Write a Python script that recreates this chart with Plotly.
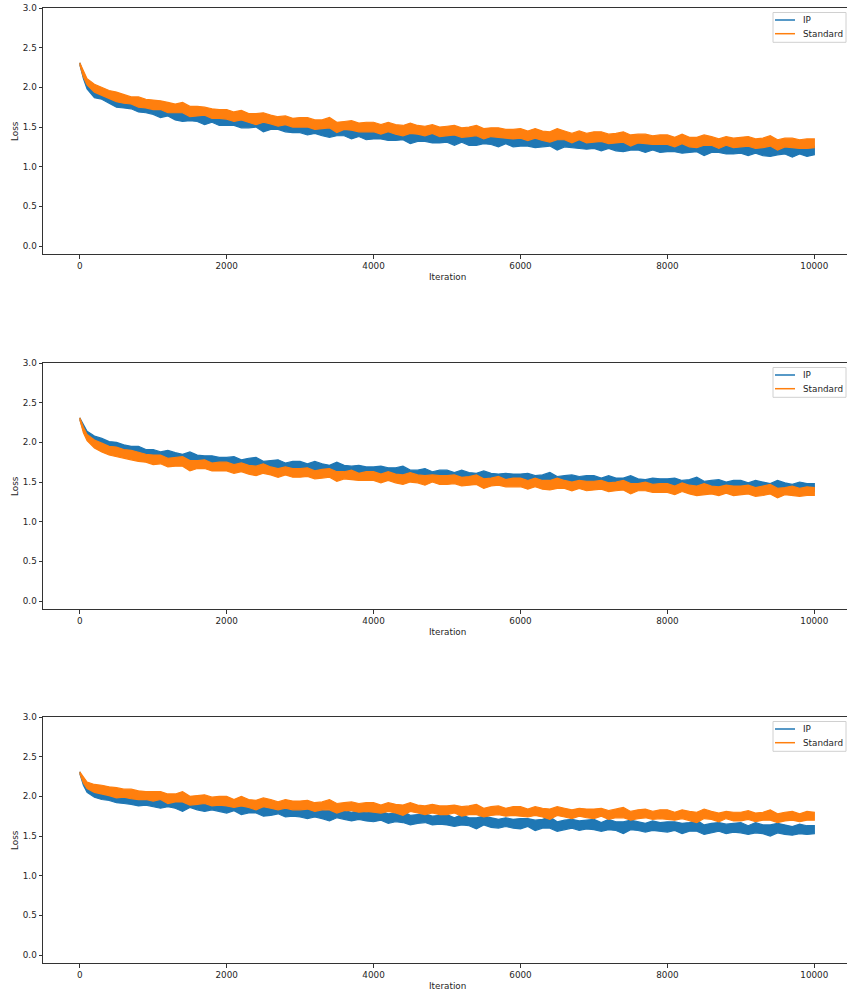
import plotly.graph_objects as go

# Training iterations at which the loss band is recorded
ITERATIONS = [0, 50] + list(range(100, 10001, 100))

IP_COLOR = "#1f77b4"
STD_COLOR = "#ff7f0e"
SERIES_NAMES = ["IP", "Standard"]

# ---- Panel 1: lower / upper envelope of the noisy loss curves ----
p1_ip_lo = [2.29, 2.11, 1.98, 1.87, 1.85, 1.80, 1.75, 1.74, 1.73, 1.69, 1.68,
            1.66, 1.62, 1.64, 1.59, 1.57, 1.58, 1.57, 1.53, 1.56, 1.52,
            1.52, 1.52, 1.49, 1.49, 1.50, 1.44, 1.47, 1.47, 1.44, 1.43,
            1.43, 1.40, 1.42, 1.39, 1.37, 1.39, 1.39, 1.35, 1.38, 1.34,
            1.35, 1.35, 1.33, 1.33, 1.34, 1.29, 1.32, 1.32, 1.30, 1.30,
            1.31, 1.27, 1.31, 1.27, 1.27, 1.29, 1.28, 1.25, 1.29, 1.25,
            1.26, 1.26, 1.24, 1.25, 1.26, 1.21, 1.25, 1.24, 1.23, 1.22,
            1.23, 1.20, 1.23, 1.20, 1.19, 1.21, 1.21, 1.18, 1.21, 1.18,
            1.19, 1.19, 1.17, 1.18, 1.19, 1.14, 1.18, 1.18, 1.16, 1.16,
            1.17, 1.14, 1.17, 1.14, 1.13, 1.15, 1.16, 1.12, 1.16, 1.13,
            1.15]
p1_ip_hi = [2.31, 2.18, 2.06, 1.98, 1.95, 1.90, 1.88, 1.85, 1.82, 1.82, 1.78,
            1.78, 1.73, 1.76, 1.71, 1.69, 1.71, 1.68, 1.65, 1.66, 1.64,
            1.64, 1.64, 1.61, 1.61, 1.63, 1.57, 1.58, 1.58, 1.55, 1.55,
            1.55, 1.51, 1.55, 1.51, 1.50, 1.53, 1.50, 1.47, 1.50, 1.47,
            1.47, 1.48, 1.45, 1.45, 1.48, 1.42, 1.44, 1.44, 1.42, 1.42,
            1.43, 1.39, 1.43, 1.40, 1.39, 1.42, 1.39, 1.37, 1.40, 1.37,
            1.38, 1.38, 1.36, 1.37, 1.39, 1.34, 1.36, 1.36, 1.34, 1.34,
            1.35, 1.32, 1.35, 1.32, 1.32, 1.34, 1.32, 1.30, 1.32, 1.30,
            1.31, 1.31, 1.29, 1.30, 1.32, 1.27, 1.29, 1.30, 1.27, 1.28,
            1.29, 1.26, 1.29, 1.26, 1.26, 1.28, 1.27, 1.24, 1.27, 1.25,
            1.26]
p1_std_lo = [2.29, 2.13, 2.03, 1.94, 1.89, 1.86, 1.82, 1.80, 1.79, 1.75, 1.74,
             1.72, 1.72, 1.68, 1.68, 1.68, 1.63, 1.64, 1.65, 1.61, 1.61,
             1.60, 1.57, 1.59, 1.56, 1.53, 1.56, 1.54, 1.51, 1.53, 1.50,
             1.50, 1.50, 1.47, 1.48, 1.49, 1.43, 1.47, 1.46, 1.44, 1.44,
             1.44, 1.41, 1.44, 1.41, 1.39, 1.42, 1.41, 1.39, 1.42, 1.38,
             1.39, 1.40, 1.37, 1.38, 1.39, 1.35, 1.38, 1.37, 1.36, 1.35,
             1.36, 1.33, 1.36, 1.33, 1.31, 1.34, 1.34, 1.30, 1.34, 1.30,
             1.31, 1.32, 1.29, 1.30, 1.31, 1.26, 1.30, 1.29, 1.28, 1.28,
             1.28, 1.25, 1.29, 1.25, 1.24, 1.27, 1.27, 1.23, 1.27, 1.24,
             1.25, 1.26, 1.23, 1.24, 1.26, 1.21, 1.25, 1.24, 1.23, 1.23,
             1.24]
p1_std_hi = [2.31, 2.20, 2.11, 2.04, 2.00, 1.96, 1.94, 1.91, 1.88, 1.88, 1.85,
             1.84, 1.83, 1.81, 1.79, 1.81, 1.76, 1.76, 1.75, 1.73, 1.72,
             1.72, 1.69, 1.71, 1.67, 1.67, 1.68, 1.65, 1.63, 1.64, 1.61,
             1.62, 1.62, 1.59, 1.59, 1.62, 1.56, 1.57, 1.58, 1.55, 1.56,
             1.56, 1.53, 1.56, 1.53, 1.52, 1.55, 1.52, 1.51, 1.53, 1.50,
             1.51, 1.52, 1.49, 1.50, 1.52, 1.48, 1.49, 1.49, 1.47, 1.47,
             1.48, 1.45, 1.48, 1.45, 1.44, 1.48, 1.45, 1.42, 1.45, 1.42,
             1.44, 1.44, 1.41, 1.42, 1.44, 1.40, 1.41, 1.41, 1.39, 1.40,
             1.40, 1.37, 1.41, 1.37, 1.37, 1.40, 1.38, 1.35, 1.38, 1.36,
             1.37, 1.38, 1.35, 1.36, 1.39, 1.34, 1.36, 1.36, 1.34, 1.35,
             1.35]

# ---- Panel 2 ----
p2_ip_lo = [2.29, 2.15, 2.06, 1.98, 1.94, 1.91, 1.89, 1.87, 1.86, 1.83, 1.82,
            1.81, 1.77, 1.80, 1.76, 1.74, 1.76, 1.75, 1.71, 1.74, 1.70,
            1.71, 1.71, 1.68, 1.69, 1.70, 1.64, 1.68, 1.67, 1.65, 1.65,
            1.65, 1.62, 1.65, 1.62, 1.60, 1.63, 1.62, 1.59, 1.62, 1.58,
            1.59, 1.59, 1.56, 1.57, 1.58, 1.53, 1.56, 1.56, 1.54, 1.54,
            1.55, 1.51, 1.55, 1.51, 1.50, 1.52, 1.52, 1.49, 1.52, 1.49,
            1.49, 1.50, 1.48, 1.48, 1.50, 1.45, 1.48, 1.48, 1.47, 1.46,
            1.47, 1.44, 1.47, 1.44, 1.43, 1.45, 1.45, 1.42, 1.45, 1.42,
            1.43, 1.44, 1.41, 1.42, 1.44, 1.38, 1.42, 1.42, 1.40, 1.40,
            1.41, 1.38, 1.41, 1.38, 1.37, 1.40, 1.39, 1.36, 1.40, 1.37,
            1.38]
p2_ip_hi = [2.31, 2.22, 2.14, 2.08, 2.05, 2.01, 2.00, 1.97, 1.95, 1.95, 1.91,
            1.91, 1.88, 1.90, 1.87, 1.85, 1.88, 1.84, 1.83, 1.83, 1.81,
            1.81, 1.82, 1.78, 1.80, 1.81, 1.76, 1.77, 1.78, 1.74, 1.76,
            1.76, 1.73, 1.76, 1.73, 1.71, 1.75, 1.71, 1.70, 1.71, 1.69,
            1.69, 1.70, 1.68, 1.68, 1.70, 1.65, 1.65, 1.67, 1.63, 1.65,
            1.65, 1.62, 1.65, 1.62, 1.61, 1.64, 1.61, 1.60, 1.61, 1.60,
            1.60, 1.61, 1.58, 1.59, 1.62, 1.57, 1.58, 1.59, 1.57, 1.58,
            1.58, 1.55, 1.58, 1.55, 1.55, 1.58, 1.54, 1.53, 1.55, 1.54,
            1.54, 1.55, 1.52, 1.53, 1.56, 1.51, 1.52, 1.53, 1.50, 1.52,
            1.52, 1.49, 1.52, 1.50, 1.48, 1.52, 1.49, 1.47, 1.50, 1.48,
            1.48]
p2_std_lo = [2.29, 2.12, 2.02, 1.93, 1.88, 1.84, 1.82, 1.80, 1.78, 1.76, 1.75,
             1.72, 1.73, 1.69, 1.70, 1.70, 1.64, 1.67, 1.67, 1.64, 1.64,
             1.64, 1.61, 1.63, 1.60, 1.58, 1.61, 1.59, 1.56, 1.59, 1.56,
             1.56, 1.57, 1.54, 1.55, 1.56, 1.51, 1.54, 1.53, 1.52, 1.52,
             1.52, 1.49, 1.52, 1.49, 1.47, 1.50, 1.49, 1.46, 1.50, 1.47,
             1.47, 1.48, 1.45, 1.46, 1.47, 1.42, 1.45, 1.46, 1.44, 1.44,
             1.44, 1.41, 1.44, 1.41, 1.40, 1.42, 1.42, 1.39, 1.42, 1.39,
             1.40, 1.41, 1.38, 1.39, 1.40, 1.35, 1.39, 1.39, 1.37, 1.37,
             1.37, 1.34, 1.38, 1.35, 1.33, 1.34, 1.35, 1.33, 1.36, 1.33,
             1.34, 1.35, 1.32, 1.33, 1.35, 1.30, 1.34, 1.33, 1.32, 1.33,
             1.33]
p2_std_hi = [2.31, 2.19, 2.10, 2.03, 1.99, 1.95, 1.94, 1.91, 1.90, 1.87, 1.85,
             1.84, 1.84, 1.80, 1.81, 1.82, 1.77, 1.77, 1.78, 1.74, 1.75,
             1.75, 1.72, 1.74, 1.71, 1.70, 1.73, 1.69, 1.67, 1.69, 1.67,
             1.67, 1.68, 1.64, 1.66, 1.67, 1.63, 1.63, 1.65, 1.61, 1.63,
             1.63, 1.60, 1.63, 1.60, 1.59, 1.62, 1.59, 1.58, 1.59, 1.58,
             1.58, 1.59, 1.56, 1.57, 1.59, 1.54, 1.55, 1.57, 1.53, 1.55,
             1.55, 1.52, 1.55, 1.52, 1.52, 1.55, 1.52, 1.50, 1.52, 1.51,
             1.51, 1.52, 1.49, 1.50, 1.52, 1.48, 1.48, 1.50, 1.47, 1.48,
             1.48, 1.45, 1.49, 1.46, 1.45, 1.48, 1.45, 1.44, 1.46, 1.45,
             1.45, 1.46, 1.43, 1.45, 1.47, 1.42, 1.43, 1.45, 1.42, 1.44,
             1.43]

# ---- Panel 3 ----
p3_ip_lo = [2.29, 2.14, 2.05, 1.99, 1.96, 1.95, 1.92, 1.91, 1.90, 1.88, 1.89,
            1.87, 1.85, 1.87, 1.85, 1.81, 1.86, 1.83, 1.81, 1.83, 1.81,
            1.79, 1.82, 1.77, 1.79, 1.79, 1.75, 1.76, 1.78, 1.74, 1.75,
            1.74, 1.72, 1.74, 1.72, 1.69, 1.73, 1.71, 1.69, 1.71, 1.69,
            1.68, 1.70, 1.66, 1.68, 1.67, 1.64, 1.66, 1.67, 1.64, 1.65,
            1.64, 1.62, 1.64, 1.63, 1.59, 1.64, 1.61, 1.60, 1.62, 1.60,
            1.59, 1.62, 1.57, 1.60, 1.60, 1.56, 1.58, 1.60, 1.57, 1.59,
            1.58, 1.56, 1.58, 1.57, 1.53, 1.58, 1.57, 1.55, 1.57, 1.56,
            1.55, 1.57, 1.53, 1.56, 1.56, 1.52, 1.54, 1.56, 1.53, 1.55,
            1.54, 1.52, 1.54, 1.53, 1.50, 1.54, 1.52, 1.51, 1.53, 1.52,
            1.53]
p3_ip_hi = [2.31, 2.20, 2.13, 2.10, 2.07, 2.06, 2.04, 2.03, 2.01, 2.02, 1.99,
            2.00, 1.96, 1.99, 1.96, 1.95, 1.97, 1.94, 1.92, 1.94, 1.91,
            1.92, 1.92, 1.89, 1.90, 1.92, 1.87, 1.88, 1.89, 1.86, 1.86,
            1.87, 1.83, 1.87, 1.83, 1.82, 1.85, 1.82, 1.80, 1.82, 1.80,
            1.81, 1.81, 1.78, 1.79, 1.81, 1.76, 1.77, 1.78, 1.75, 1.76,
            1.77, 1.73, 1.77, 1.73, 1.73, 1.75, 1.73, 1.71, 1.73, 1.71,
            1.72, 1.72, 1.70, 1.71, 1.74, 1.68, 1.70, 1.71, 1.69, 1.70,
            1.71, 1.67, 1.71, 1.68, 1.68, 1.70, 1.68, 1.66, 1.69, 1.67,
            1.68, 1.68, 1.66, 1.67, 1.70, 1.64, 1.66, 1.67, 1.65, 1.66,
            1.67, 1.63, 1.67, 1.64, 1.64, 1.66, 1.64, 1.62, 1.65, 1.63,
            1.63]
p3_std_lo = [2.29, 2.17, 2.10, 2.05, 2.03, 2.01, 1.98, 1.99, 1.97, 1.96, 1.96,
             1.94, 1.96, 1.91, 1.93, 1.93, 1.89, 1.90, 1.91, 1.88, 1.89,
             1.88, 1.86, 1.88, 1.86, 1.83, 1.87, 1.85, 1.83, 1.85, 1.83,
             1.83, 1.84, 1.81, 1.83, 1.83, 1.79, 1.82, 1.82, 1.80, 1.81,
             1.80, 1.79, 1.81, 1.79, 1.76, 1.81, 1.79, 1.77, 1.79, 1.77,
             1.77, 1.79, 1.75, 1.77, 1.77, 1.74, 1.76, 1.77, 1.75, 1.76,
             1.75, 1.74, 1.76, 1.74, 1.71, 1.76, 1.74, 1.72, 1.75, 1.73,
             1.72, 1.75, 1.71, 1.73, 1.73, 1.70, 1.72, 1.73, 1.71, 1.72,
             1.71, 1.70, 1.72, 1.70, 1.67, 1.72, 1.71, 1.68, 1.72, 1.69,
             1.69, 1.71, 1.68, 1.70, 1.70, 1.67, 1.69, 1.70, 1.68, 1.70,
             1.70]
p3_std_hi = [2.31, 2.24, 2.18, 2.15, 2.14, 2.12, 2.11, 2.09, 2.09, 2.07, 2.06,
             2.06, 2.06, 2.03, 2.03, 2.06, 2.00, 2.01, 2.02, 1.99, 2.00,
             2.00, 1.96, 2.00, 1.96, 1.95, 1.98, 1.96, 1.93, 1.96, 1.94,
             1.94, 1.95, 1.92, 1.93, 1.96, 1.91, 1.92, 1.93, 1.91, 1.92,
             1.92, 1.89, 1.92, 1.90, 1.89, 1.92, 1.89, 1.88, 1.90, 1.88,
             1.88, 1.89, 1.87, 1.88, 1.90, 1.85, 1.87, 1.88, 1.85, 1.87,
             1.87, 1.84, 1.87, 1.85, 1.84, 1.87, 1.85, 1.83, 1.85, 1.84,
             1.84, 1.85, 1.82, 1.84, 1.86, 1.81, 1.83, 1.84, 1.81, 1.83,
             1.83, 1.80, 1.83, 1.81, 1.80, 1.84, 1.81, 1.79, 1.81, 1.80,
             1.80, 1.82, 1.79, 1.80, 1.83, 1.78, 1.80, 1.81, 1.78, 1.81,
             1.80]

PANELS = [
    ((p1_ip_lo, p1_ip_hi), (p1_std_lo, p1_std_hi)),
    ((p2_ip_lo, p2_ip_hi), (p2_std_lo, p2_std_hi)),
    ((p3_ip_lo, p3_ip_hi), (p3_std_lo, p3_std_hi)),
]

X_TICKS = [0, 2000, 4000, 6000, 8000, 10000]
Y_TICKS = [0.0, 0.5, 1.0, 1.5, 2.0, 2.5, 3.0]

# ---- Page geometry (pixels) ----
W, H = 847, 994
AX_LEFT = 43
AX_TOPS = [8, 363, 717]
AX_HEIGHT = 246
AXIS_COLOR = "#333333"
TEXT_COLOR = "#262626"
FONT = dict(family="DejaVu Sans", size=8.8, color=TEXT_COLOR)


def px(x):
    return x / W


def py(y):
    return 1 - y / H


fig = go.Figure()
shapes = []
annotations = []

for k, panel in enumerate(PANELS):
    sfx = "" if k == 0 else str(k + 1)
    top = AX_TOPS[k]
    for (lo, hi), color in zip(panel, [IP_COLOR, STD_COLOR]):
        assert len(lo) == len(hi) == len(ITERATIONS)
        fig.add_trace(go.Scatter(
            x=ITERATIONS + ITERATIONS[::-1],
            y=hi + lo[::-1],
            mode="lines",
            fill="toself",
            fillcolor=color,
            line=dict(color=color, width=1.2),
            xaxis="x" + sfx,
            yaxis="y" + sfx,
            showlegend=False,
            hoverinfo="skip",
        ))

    fig.layout["xaxis" + sfx] = dict(
        domain=[px(AX_LEFT), 1.0], range=[-500, 10445], anchor="y" + sfx,
        automargin=False,
        tickmode="array", tickvals=X_TICKS, ticktext=[str(v) for v in X_TICKS],
        showline=True, mirror=True, linecolor=AXIS_COLOR, linewidth=1,
        ticks="outside", ticklen=3.5, tickwidth=0.8, tickcolor=AXIS_COLOR,
        showgrid=False, zeroline=False, tickfont=FONT,
    )
    fig.layout["yaxis" + sfx] = dict(
        domain=[py(top + AX_HEIGHT), py(top)], range=[-0.1, 3.0], anchor="x" + sfx,
        automargin=False,
        tickmode="array", tickvals=Y_TICKS, ticktext=[f"{v:.1f}" for v in Y_TICKS],
        showline=True, mirror=False, linecolor=AXIS_COLOR, linewidth=1,
        ticks="outside", ticklen=3.5, tickwidth=0.8, tickcolor=AXIS_COLOR,
        showgrid=False, zeroline=False, tickfont=FONT,
    )

    # axis labels
    annotations.append(dict(text="Iteration", xref="paper", yref="paper",
                            x=px(447), y=py(top + AX_HEIGHT + 23),
                            xanchor="center", yanchor="middle",
                            showarrow=False, font=FONT))
    annotations.append(dict(text="Loss", xref="paper", yref="paper",
                            x=px(15), y=py(top + AX_HEIGHT / 2),
                            xanchor="center", yanchor="middle", textangle=-90,
                            showarrow=False, font=FONT))

    # legend box in the upper-right corner of each panel
    shapes.append(dict(type="rect", xref="paper", yref="paper",
                       x0=px(773), x1=px(846), y0=py(top + 4.5), y1=py(top + 34.3),
                       line=dict(color="#d0d0d0", width=1),
                       fillcolor="rgba(255,255,255,0.8)", layer="above"))
    for j, (name, color) in enumerate(zip(SERIES_NAMES, [IP_COLOR, STD_COLOR])):
        yy = top + 12 + j * 13.7
        shapes.append(dict(type="line", xref="paper", yref="paper",
                           x0=px(775), x1=px(795), y0=py(yy), y1=py(yy),
                           line=dict(color=color, width=1.5), layer="above"))
        annotations.append(dict(text=name, xref="paper", yref="paper",
                                x=px(801), y=py(yy), xanchor="left", yanchor="middle",
                                showarrow=False, font=FONT))

fig.update_layout(
    width=W, height=H,
    margin=dict(l=0, r=0, t=0, b=0, autoexpand=False),
    paper_bgcolor="white", plot_bgcolor="white",
    showlegend=False,
    shapes=shapes, annotations=annotations,
    font=FONT,
)

fig.write_html("out.html")
